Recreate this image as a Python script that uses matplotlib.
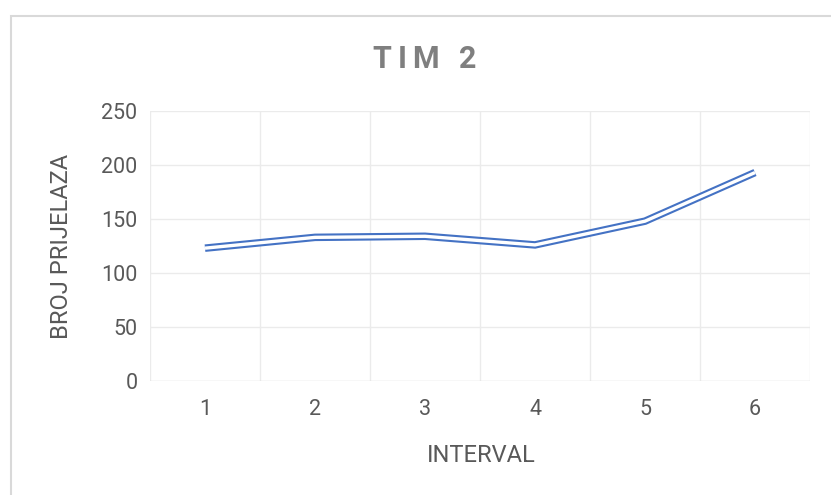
import matplotlib
matplotlib.use("Agg")
import matplotlib.pyplot as plt
from matplotlib.patches import Rectangle

intervals = [1, 2, 3, 4, 5, 6]
values = [123, 133, 134, 126, 148, 193]
y_ticks = [0, 50, 100, 150, 200, 250]
title = "TIM 2"
x_title = "INTERVAL"
y_title = "BROJ PRIJELAZA"

W, H = 831, 495
plt.rcParams['font.family'] = ['Roboto', 'DejaVu Sans']
fig = plt.figure(figsize=(W / 100, H / 100), dpi=100)

def fx(px):
    return px / W

def fy(py):
    return 1 - py / H

# chart border
fig.patches.append(Rectangle((fx(11), fy(700)), fx(1000), fy(16) - fy(700),
                             transform=fig.transFigure, fill=False,
                             edgecolor='#d9d9d9', linewidth=1.5))

ax = fig.add_axes([fx(150), fy(381), fx(810) - fx(150), fy(111) - fy(381)])
ax.set_xlim(0.5, 6.5)
ax.set_ylim(0, 250)
for s in ax.spines.values():
    s.set_visible(False)
ax.set_yticks(y_ticks)
ax.set_xticks(intervals)
ax.tick_params(length=0, labelsize=15.5, labelcolor='#595959')
ax.tick_params(axis='x', pad=13)
ax.tick_params(axis='y', pad=9)
for y in y_ticks[1:]:
    ax.axhline(y, color='#ebebeb', lw=1.0, zorder=0)
for i in range(len(intervals) + 1):
    ax.axvline(0.5 + i, color='#ebebeb', lw=1.0, zorder=0)
ax.axhline(0, color='#d9d9d9', lw=1.0, zorder=1)

ax.plot(intervals, values, color='#4472c4', lw=5.4, solid_joinstyle='miter',
        solid_capstyle='butt', zorder=3)
ax.plot(intervals, values, color='white', lw=2.4, solid_joinstyle='miter',
        solid_capstyle='butt', zorder=4)

fig.text(fx(481), fy(456), x_title, ha='center', va='center', fontsize=17, color='#595959')
fig.text(fx(62), fy(246), y_title, ha='center', va='center', rotation=90, fontsize=17, color='#595959')

# letter-spaced title
renderer = fig.canvas.get_renderer()
tsize = 22
spacing = 6.0

def wpx(s):
    t = fig.text(0, 0, s, fontsize=tsize, fontweight='bold')
    w = t.get_window_extent(renderer).width
    t.remove()
    return w

ref = wpx("I")
offs = []
for i in range(len(title)):
    if i == 0:
        offs.append(0.0)
    else:
        offs.append(wpx(title[:i] + "I") - ref + spacing * i)
total = offs[-1] + wpx(title[-1])
start = 424.5 - total / 2
for i, ch in enumerate(title):
    if ch == ' ':
        continue
    fig.text(fx(start + offs[i]), fy(58.5), ch, ha='left', va='center',
             fontsize=tsize, fontweight='bold', color='#7f7f7f')

fig.savefig("out.png", dpi=100)
